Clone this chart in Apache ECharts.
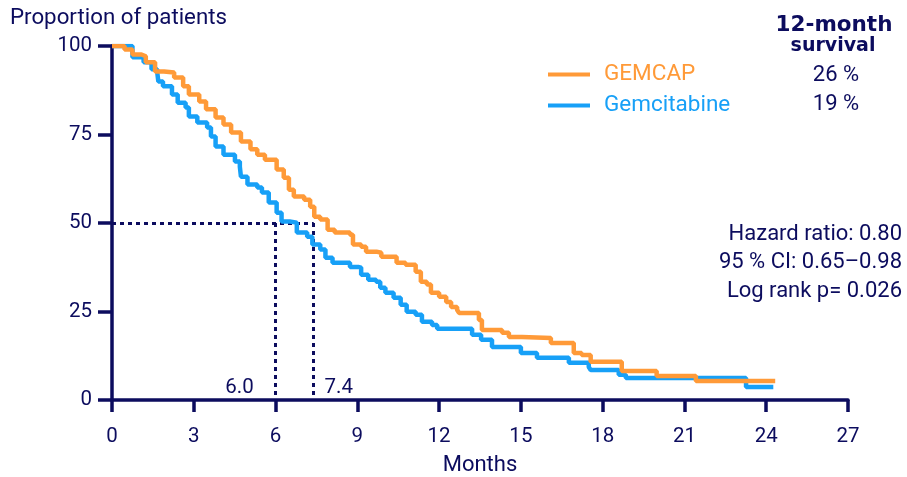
<!DOCTYPE html>
<html>
<head>
<meta charset="utf-8">
<script src="https://cdn.jsdelivr.net/npm/echarts@6/dist/echarts.min.js"></script>
<style>
	html, body { margin: 0; padding: 0; background: #fff; }
	#chart { width: 907px; height: 477px; }
</style>
</head>
<body>
<div id="chart"></div>
<script>
	// Kaplan-Meier curves (months, % of patients)
	var gemcapMonths = [0, 0.46, 0.75, 1.08, 1.24, 1.58, 1.91, 2.28, 2.61, 2.82, 3.2, 3.45, 3.8, 4.09, 4.37, 4.73, 5.08, 5.33, 5.61, 6.04, 6.3, 6.49, 6.67, 7.05, 7.27, 7.42, 7.64, 7.91, 8.17, 8.73, 8.84, 9.14, 9.32, 9.7, 9.88, 10.44, 10.77, 11.14, 11.33, 11.55, 11.7, 12.0, 12.26, 12.44, 12.66, 12.73, 13.46, 13.57, 14.31, 14.56, 15.04, 16.1, 16.94, 17.23, 17.56, 18.7, 19.98, 21.42, 24.33];
	var gemcapPct = [100, 99.0, 97.6, 97.1, 95.4, 92.8, 92.5, 91.1, 88.6, 86.3, 84.3, 82.1, 79.8, 77.8, 75.6, 73.0, 70.8, 69.3, 67.9, 65.1, 62.8, 59.4, 57.5, 56.6, 54.6, 51.8, 51.0, 48.1, 47.3, 46.7, 43.9, 43.3, 41.9, 41.6, 40.5, 38.8, 38.2, 36.2, 33.4, 32.6, 30.3, 29.2, 27.7, 26.3, 25.5, 24.6, 22.6, 19.8, 19.0, 17.8, 17.5, 16.1, 13.3, 12.7, 10.8, 8.2, 6.8, 5.4, 5.4];

	var gemciMonths = [0, 0.33, 0.75, 1.16, 1.45, 1.66, 1.7, 1.87, 2.2, 2.41, 2.7, 2.82, 3.13, 3.49, 3.63, 3.8, 4.09, 4.51, 4.69, 4.73, 4.97, 5.33, 5.5, 5.75, 6.04, 6.22, 6.52, 6.78, 7.16, 7.35, 7.64, 7.83, 8.09, 8.73, 9.03, 9.14, 9.4, 9.69, 9.84, 10.03, 10.33, 10.59, 10.81, 11.14, 11.37, 11.74, 11.93, 13.21, 13.54, 13.94, 15.0, 15.59, 16.76, 17.49, 17.56, 18.59, 18.85, 23.26, 24.26];
	var gemciPct = [100, 100, 96.8, 95.4, 93.4, 92.5, 90.0, 88.6, 86.3, 84.0, 82.6, 80.1, 78.4, 77.0, 74.4, 71.6, 69.3, 67.4, 65.9, 63.1, 60.9, 60.0, 58.6, 55.8, 52.9, 50.4, 50.1, 47.3, 46.1, 43.9, 42.5, 40.2, 38.8, 37.6, 37.4, 35.4, 34.0, 33.4, 31.7, 30.3, 28.9, 26.9, 24.9, 24.1, 22.1, 21.2, 20.1, 18.4, 17.0, 15.0, 13.3, 11.9, 10.5, 9.3, 8.5, 7.1, 6.2, 3.7, 3.7];

	var seriesNames = ['GEMCAP', 'Gemcitabine'];
	var survival12 = ['26 %', '19 %'];
	var medianMonths = [6.0, 7.4];
	var statsLines = ['Hazard ratio: 0.80', '95 % CI: 0.65\u20130.98', 'Log rank p= 0.026'];

	var navy = '#0c0c5e';
	var orange = '#ff9a38';
	var blue = '#17a0f7';

	function pairs(xs, ys) {
		var out = [];
		for (var i = 0; i < xs.length; i++) out.push([xs[i], ys[i]]);
		return out;
	}

	var chart = echarts.init(document.getElementById('chart'), null, { renderer: 'canvas' });

	var dotted = { color: navy, width: 3, type: [4, 4], cap: 'butt' };

	var graphics = [
		{ type: 'text', left: 10, top: 7, style: { text: 'Proportion of patients', fontSize: 22.3, fontFamily: 'Roboto', fill: navy } },
		{ type: 'text', x: 834, y: 25, style: { text: '12-month', fontSize: 21.5, fontWeight: 'bold', fontFamily: 'DejaVu Sans', fill: navy, textAlign: 'center', textVerticalAlign: 'middle' } },
		{ type: 'text', x: 833, y: 46, style: { text: 'survival', fontSize: 19, fontWeight: 'bold', fontFamily: 'DejaVu Sans', fill: navy, textAlign: 'center', textVerticalAlign: 'middle' } }
	];
	survival12.forEach(function (s, i) {
		graphics.push({ type: 'text', x: 836, y: 75 + i * 29, style: { text: s, fontSize: 22, fontFamily: 'Roboto', fill: navy, textAlign: 'center', textVerticalAlign: 'middle' } });
	});
	statsLines.forEach(function (s, i) {
		graphics.push({ type: 'text', x: 902, y: 234 + i * 28.5, style: { text: s, fontSize: 22, fontFamily: 'Roboto', fill: navy, textAlign: 'right', textVerticalAlign: 'middle' } });
	});

	var option = {
		animation: false,
		grid: { left: 112, right: 59, top: 46, bottom: 77, containLabel: false, outerBoundsMode: 'none' },
		legend: {
			orient: 'vertical',
			left: 548,
			top: 63,
			itemWidth: 42,
			itemHeight: 4,
			itemGap: 8,
			icon: 'rect',
			padding: 0,
			data: [
				{ name: seriesNames[0], textStyle: { color: orange } },
				{ name: seriesNames[1], textStyle: { color: blue } }
			],
			textStyle: { fontSize: 22.5, fontFamily: 'Roboto', padding: [0, 0, 0, 9] }
		},
		xAxis: {
			type: 'value',
			min: 0,
			max: 27,
			interval: 3,
			name: 'Months',
			nameLocation: 'middle',
			nameGap: 54,
			nameTextStyle: { fontSize: 22, fontFamily: 'Roboto', color: navy },
			splitLine: { show: false },
			axisLine: { lineStyle: { color: navy, width: 3.5 } },
			axisTick: { length: 12, lineStyle: { color: navy, width: 3.5 } },
			axisLabel: { fontSize: 20.5, fontFamily: 'Roboto', color: navy, margin: 26 }
		},
		yAxis: {
			type: 'value',
			min: 0,
			max: 100,
			interval: 25,
			splitLine: { show: false },
			axisLine: { show: true, lineStyle: { color: navy, width: 3.5 } },
			axisTick: { show: true, length: 14, lineStyle: { color: navy, width: 3.5 } },
			axisLabel: { fontSize: 20.5, fontFamily: 'Roboto', color: navy, margin: 20 }
		},
		graphic: graphics,
		series: [
			{
				name: seriesNames[1],
				type: 'line',
				step: 'end',
				symbol: 'none',
				color: blue,
				lineStyle: { width: 4.5, color: blue },
				data: pairs(gemciMonths, gemciPct),
				z: 3
			},
			{
				name: seriesNames[0],
				type: 'line',
				step: 'end',
				symbol: 'none',
				color: orange,
				lineStyle: { width: 4.5, color: orange },
				data: pairs(gemcapMonths, gemcapPct),
				z: 4,
				markLine: {
					silent: true,
					symbol: ['none', 'none'],
					label: { show: false },
					lineStyle: dotted,
					z: 2,
					data: [
						[{ coord: [0, 50] }, { coord: [medianMonths[1], 50] }],
						[{ coord: [medianMonths[0], 50] }, { coord: [medianMonths[0], 0] }],
						[{ coord: [medianMonths[1], 50] }, { coord: [medianMonths[1], 0] }]
					]
				},
				markPoint: {
					silent: true,
					symbol: 'circle',
					symbolSize: 0,
					data: [
						{ coord: [medianMonths[0], 0], label: { show: true, formatter: medianMonths[0].toFixed(1), offset: [-36, -12], fontSize: 20.5, fontFamily: 'Roboto', color: navy } },
						{ coord: [medianMonths[1], 0], label: { show: true, formatter: medianMonths[1].toFixed(1), offset: [25, -12], fontSize: 20.5, fontFamily: 'Roboto', color: navy } }
					]
				}
			}
		]
	};

	chart.setOption(option);
</script>
</body>
</html>
